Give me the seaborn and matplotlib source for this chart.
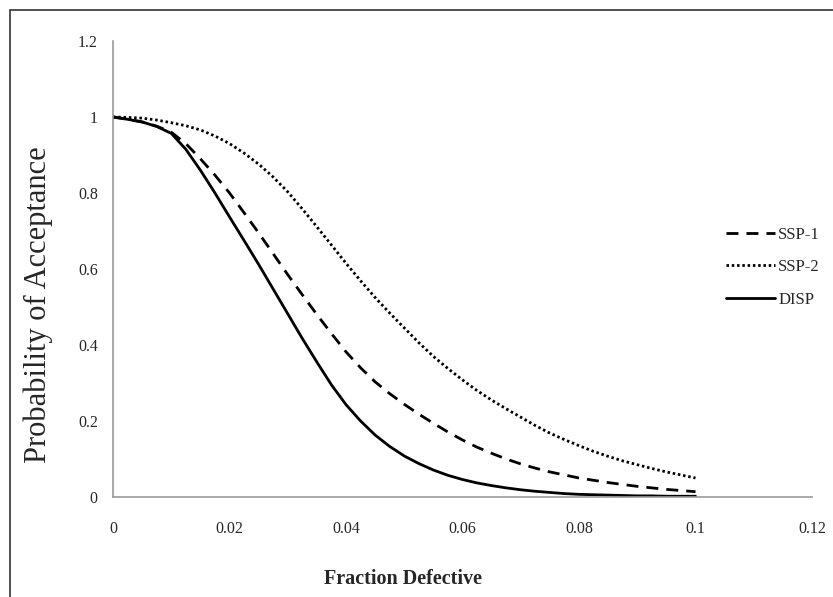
import matplotlib
matplotlib.use('Agg')
import matplotlib.pyplot as plt
import pandas as pd
import seaborn as sns

# fraction defective, 0 to 0.1 in steps of 0.0025
p = [round(i * 0.0025, 4) for i in range(41)]

ssp1 = [1.0, 0.994, 0.987, 0.976, 0.96, 0.93, 0.89, 0.847, 0.80, 0.748,
        0.695, 0.64, 0.585, 0.532, 0.48, 0.43, 0.382, 0.34, 0.303, 0.272,
        0.244, 0.218, 0.194, 0.171, 0.15, 0.131, 0.115, 0.10, 0.087, 0.076,
        0.066, 0.058, 0.05, 0.044, 0.038, 0.033, 0.028, 0.024, 0.02, 0.017,
        0.014]
ssp2 = [1.0, 0.999, 0.997, 0.992, 0.985, 0.977, 0.966, 0.95, 0.93, 0.905,
        0.876, 0.842, 0.803, 0.758, 0.711, 0.663, 0.615, 0.569, 0.525, 0.484,
        0.445, 0.406, 0.37, 0.338, 0.308, 0.28, 0.255, 0.232, 0.21, 0.188,
        0.168, 0.151, 0.135, 0.12, 0.107, 0.095, 0.085, 0.075, 0.066, 0.058,
        0.05]
disp = [1.0, 0.994, 0.987, 0.975, 0.957, 0.915, 0.86, 0.80, 0.737, 0.675,
        0.612, 0.547, 0.482, 0.417, 0.355, 0.295, 0.243, 0.20, 0.163, 0.133,
        0.108, 0.088, 0.071, 0.057, 0.046, 0.037, 0.03, 0.024, 0.019, 0.015,
        0.012, 0.009, 0.007, 0.006, 0.005, 0.004, 0.003, 0.003, 0.002, 0.002,
        0.002]

plans = ['SSP-1', 'SSP-2', 'DISP']

df = pd.DataFrame({
    'p': p * 3,
    'pa': ssp1 + ssp2 + disp,
    'plan': [plans[0]] * len(p) + [plans[1]] * len(p) + [plans[2]] * len(p),
})

sns.set_style('white')
plt.rcParams['font.family'] = ['Liberation Serif', 'DejaVu Serif']

fig = plt.figure(figsize=(8.33, 5.97), dpi=100)
ax = fig.add_axes([0.1357, 0.1675, 0.8391, 0.7638])

sns.lineplot(data=df, x='p', y='pa', style='plan', style_order=plans,
             dashes={'SSP-1': (4.3, 2.9), 'SSP-2': (0.9, 1.0), 'DISP': ''},
             color='black', linewidth=2.0, ax=ax)

ax.set_xlim(0, 0.12)
ax.set_ylim(0, 1.2)
ax.set_xticks([0, 0.02, 0.04, 0.06, 0.08, 0.1, 0.12])
ax.set_xticklabels(['0', '0.02', '0.04', '0.06', '0.08', '0.1', '0.12'])
ax.set_yticks([0, 0.2, 0.4, 0.6, 0.8, 1.0, 1.2])
ax.set_yticklabels(['0', '0.2', '0.4', '0.6', '0.8', '1', '1.2'])
ax.tick_params(axis='both', length=5, width=1, color='#999999', direction='out',
               labelsize=11.5, pad=6)
ax.tick_params(axis='x', pad=12)
sns.despine(ax=ax)
for s in ['left', 'bottom']:
    ax.spines[s].set_color('#999999')
    ax.spines[s].set_linewidth(1.2)

ax.set_xlabel('')
ax.set_ylabel('')
fig.text(0.046, 0.49, 'Probability of Acceptance', rotation=90, ha='center',
         va='center', fontsize=22)
fig.text(0.484, 0.03, 'Fraction Defective', ha='center', va='center',
         fontsize=14.5, fontweight='bold')

leg = ax.legend(loc='center left', bbox_to_anchor=(0.856, 0.504), frameon=False,
                fontsize=12, handlelength=2.9, handletextpad=0.2,
                labelspacing=1.0)

fig.patches.append(plt.Rectangle((0.012, -0.01), 1.0, 0.993, transform=fig.transFigure,
                                 fill=False, edgecolor='#333333', linewidth=1.2))

fig.savefig('out.png', dpi=100)
